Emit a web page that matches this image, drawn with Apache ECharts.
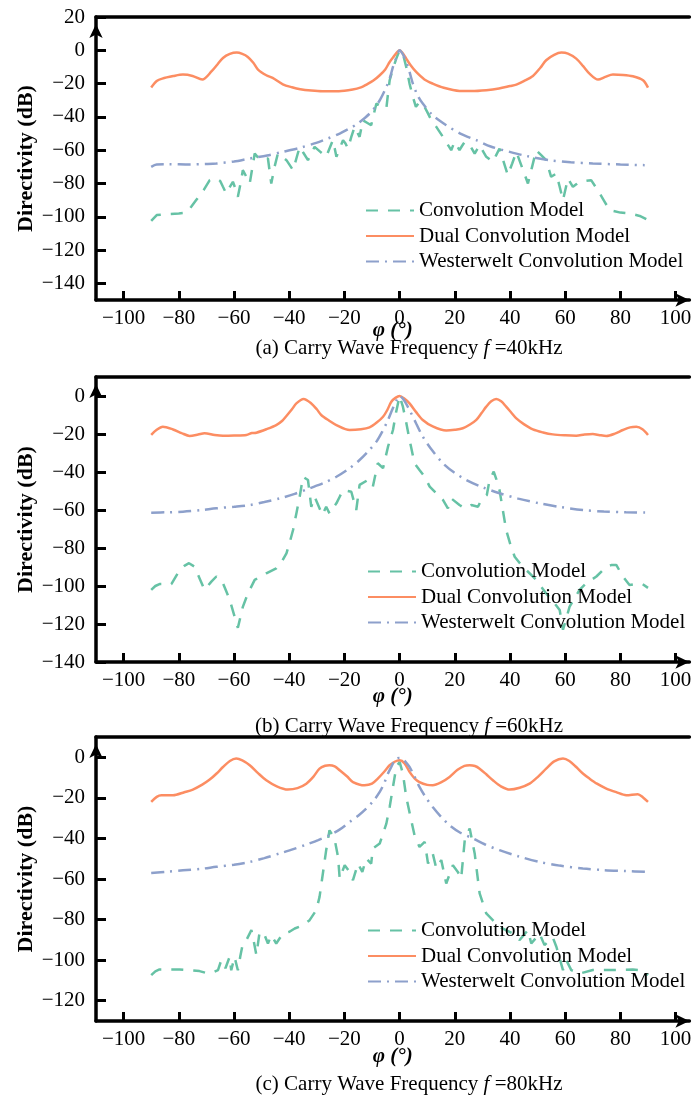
<!DOCTYPE html>
<html>
<head>
<meta charset="utf-8">
<script src="https://cdn.jsdelivr.net/npm/echarts@6/dist/echarts.min.js"></script>
<style>
  html, body { margin: 0; padding: 0; background: #fff; }
  #main { width: 699px; height: 1102px; }
</style>
</head>
<body>
<div id="main"></div>
<script>
// ---- data, [angle deg, directivity dB] ----
const seriesNames = ["Convolution Model", "Dual Convolution Model", "Westerwelt Convolution Model"];
const xTicks = [-100, -80, -60, -40, -20, 0, 20, 40, 60, 80, 100];
const yTicksA = [20, 0, -20, -40, -60, -80, -100, -120, -140];
const yTicksB = [0, -20, -40, -60, -80, -100, -120, -140];
const yTicksC = [0, -20, -40, -60, -80, -100, -120];
const captions = ["40kHz", "60kHz", "80kHz"];

// (a) f = 40kHz
const convA = [[-90,-102.4],[-88,-99],[-85,-98.5],[-80,-98],[-77.3,-97.6],[-75.5,-94],[-73.7,-90],[-71,-84],[-68.8,-78],[-66.4,-77],[-65,-78.5],[-64,-82],[-62.8,-86],[-61.5,-82],[-60.4,-79],[-59.5,-83],[-58.6,-88],[-57.5,-79],[-56.8,-72],[-55.5,-76],[-54.3,-80],[-53.3,-70],[-52.5,-62],[-51.5,-64],[-50,-66],[-48.8,-65],[-47.7,-65],[-46.5,-80],[-45.3,-70],[-44.1,-62],[-42.5,-64],[-41,-66],[-39.8,-69],[-38.6,-72],[-37.4,-65],[-36.2,-58],[-34.7,-62],[-33.2,-66],[-32,-62],[-30.8,-58],[-28.7,-61],[-26.6,-64],[-25.4,-59],[-24.2,-54],[-23.5,-59],[-22.9,-64],[-21.7,-59],[-20.5,-54],[-19.6,-56],[-18.7,-59],[-17.5,-52],[-16.3,-46],[-15.4,-49],[-14.5,-52],[-13.9,-47],[-13.3,-42],[-11.8,-43.5],[-10.3,-45],[-9.3,-38],[-8.4,-32],[-6.6,-33.5],[-4.8,-35],[-4.2,-26],[-3.6,-18],[-2.4,-11],[-1.2,-5],[0,0],
  [1.2,-2],[2.4,-10],[3.6,-20],[4.8,-28],[5.9,-34],[7.2,-31],[8.4,-32],[10,-37],[11.5,-42],[12.4,-44],[13.3,-46],[14.5,-49],[15.7,-52],[17.2,-56],[18.7,-60],[19.9,-55],[20.8,-57.5],[21.7,-60],[22.6,-57.5],[23.6,-55],[25.4,-57],[27.2,-62],[28.1,-59.5],[29,-57],[30.2,-60.5],[31.4,-64],[33.8,-67],[35,-63],[36.2,-59],[37.7,-67],[39.2,-75],[40.8,-68],[42.3,-61],[44.4,-70.5],[46.5,-80],[48,-70],[49.5,-60],[51.3,-63],[53.1,-66],[54.9,-76],[56.8,-74],[58,-82],[59.2,-90],[60.1,-83.5],[61,-77],[62.8,-82],[64,-80.5],[65.2,-79],[67.3,-78.5],[69.4,-78],[71,-82],[72.5,-86],[74.3,-91],[76.1,-96],[80,-97.5],[83.3,-98],[87,-99.5],[90,-102]];
const dualA = [[-90,-22.4],[-88,-18.5],[-86,-17],[-82,-15.5],[-78.5,-14.6],[-75,-15.4],[-71.5,-17.6],[-68,-12.4],[-66,-8.5],[-64,-4.6],[-61.5,-2.2],[-59,-1.4],[-57,-2.2],[-55,-4],[-53,-7.5],[-51.3,-11.6],[-48.3,-15],[-46,-16.6],[-42.3,-20.4],[-39,-22.2],[-36,-23.4],[-32,-24.2],[-28,-24.6],[-22,-24.6],[-17,-23.6],[-14,-22.3],[-12,-20.6],[-9.5,-18.2],[-7.2,-15],[-5.2,-11.5],[-3.6,-7],[-2,-3.5],[-0.8,-1],[0,0],[1,-1.5],[2.4,-5],[4,-9],[6,-13],[9,-17.5],[12,-20],[16,-22.5],[21.7,-24.4],[26,-24.5],[31.4,-24],[36,-23],[40,-21.5],[42.3,-20.6],[45,-18.5],[48.3,-15.4],[51,-10.5],[53.1,-6],[56,-2.8],[58.6,-1.4],[61,-2],[64,-5],[66.5,-9.5],[68.8,-14],[71.9,-17.6],[74.5,-16],[77.3,-14.6],[81,-14.8],[84.5,-15.6],[88.2,-18],[90,-22.4]];
const westA = [[-90,-70],[-88,-68.6],[-84,-68.4],[-76,-68.6],[-70,-68.3],[-66.4,-68],[-60,-66.8],[-54.3,-65],[-48,-63.2],[-42.3,-61],[-36,-58.5],[-30.2,-55.6],[-26,-53],[-21.7,-50],[-18.5,-47.3],[-15.7,-44.6],[-12.5,-40.5],[-9.7,-36],[-7,-29.5],[-4.8,-22],[-3.5,-16.5],[-2.4,-10],[-1.2,-4.5],[0,0],[1.2,-2.5],[2.4,-7],[3.6,-13],[4.8,-20],[6.5,-27],[8.4,-32],[12,-39],[16.9,-45],[22,-50],[27.8,-54],[33,-57.8],[39.9,-61],[46,-63.5],[54.3,-66],[62,-67.2],[70,-68],[80,-68.6],[88.8,-69]];

// (b) f = 60kHz
const convB = [[-90,-102],[-88.5,-100],[-87,-99],[-84.8,-99],[-82.7,-99],[-81.2,-95.3],[-79.7,-91.6],[-78,-89.4],[-76.3,-88],[-74.3,-89.8],[-72.5,-95.9],[-70.7,-102],[-69.4,-99.8],[-68.2,-97.7],[-66.4,-95],[-65.2,-96.3],[-64,-98.6],[-62.8,-102.8],[-61.6,-107],[-60.1,-114.5],[-58.6,-122],[-57.7,-116.5],[-56.8,-111],[-55,-104],[-52.5,-96.8],[-50.4,-95],[-48.3,-93.3],[-44.7,-90.7],[-42.8,-87.5],[-41,-82.8],[-39.8,-77],[-38.6,-70.5],[-37.4,-61.8],[-36.2,-53],[-35,-42.5],[-33.2,-44.2],[-32,-58.3],[-30.8,-53],[-29.4,-57.8],[-28,-62.6],[-26.6,-58.3],[-25.4,-61.8],[-24.2,-59],[-22.9,-56.5],[-21.7,-53],[-20.5,-49.5],[-17.5,-50.4],[-15.7,-60],[-14.5,-46.8],[-11.5,-44.2],[-9.7,-47.7],[-7.9,-35.4],[-6,-38],[-4.2,-26.7],[-2.4,-17.9],[-1.2,-8],[0,0],
  [1.2,-5.6],[2.4,-14],[3.6,-23],[5.4,-35.4],[7.2,-38.9],[9.1,-42.5],[10.9,-47.7],[13.3,-51.2],[15.7,-54.7],[17.5,-59.1],[18.7,-53.9],[21.7,-57.4],[23.6,-59.1],[26,-57.4],[28.4,-58.3],[29.6,-54.7],[31.6,-52.1],[32.6,-44.2],[34.1,-39.8],[35.1,-44],[36.2,-49.5],[37.4,-60],[38.6,-70.5],[40.1,-78],[41.7,-84.6],[43.8,-88.5],[45.9,-91.6],[49.5,-96.8],[53.1,-103.9],[55.5,-108],[58,-112.6],[59.2,-123],[60.4,-117],[61.6,-110.9],[63.4,-106.5],[65.2,-102],[67.6,-98.6],[71.3,-95],[74.9,-89.8],[76.7,-89],[78.5,-88.9],[80.9,-95],[83.3,-99.5],[86,-98.8],[88,-99],[90,-101]];
const dualB = [[-90,-20.5],[-88,-17.8],[-85.8,-16.2],[-82.1,-17.6],[-79,-19.5],[-76.1,-21],[-73,-20.3],[-70.7,-19.6],[-67,-20.5],[-64,-20.9],[-60,-20.8],[-55.5,-20.5],[-53.5,-19.5],[-51.9,-19.3],[-48.3,-17.5],[-44.7,-15.3],[-42.5,-13],[-41,-10.5],[-39,-7],[-37.4,-3.9],[-34.8,-1.6],[-32,-3.9],[-30,-7],[-28.4,-10],[-25.5,-13],[-22.9,-15.3],[-18.1,-17.9],[-14,-17.5],[-10.9,-16.5],[-8.3,-14],[-6,-10.9],[-4.5,-7.5],[-3,-3],[-1.5,-1],[0,0],[1.8,-1.5],[3.6,-3.9],[6,-8.5],[8.4,-12.6],[12,-16],[16.9,-18.2],[20,-17.8],[22.9,-17],[25.5,-15],[27.8,-12.6],[29.7,-9],[31.4,-5.6],[33.2,-2.8],[35,-1.6],[36.8,-2.8],[38.6,-5.6],[40.5,-8.8],[42.3,-11.8],[45,-14.8],[48.3,-17.6],[52,-19.2],[55.5,-20.2],[60,-20.7],[64,-20.9],[67,-20.3],[70,-20],[72.5,-20.6],[74.9,-21],[78,-19.8],[80.9,-17.9],[83.5,-16.5],[85.8,-16.2],[88,-17.5],[90,-20.5]];
const westB = [[-90,-61.4],[-84,-61.2],[-78.5,-60.9],[-72,-60.1],[-66.4,-59.1],[-60,-58.3],[-54.3,-57.4],[-49,-55.8],[-43.5,-53.9],[-38,-51.5],[-32.6,-48.6],[-27.5,-45.8],[-22.9,-42.5],[-18.5,-38.4],[-14.5,-33.7],[-11.3,-29],[-8.4,-24],[-6.2,-18.5],[-4.2,-12.6],[-2.6,-7],[-1.2,-2.5],[0,0],[1.5,-2],[3.6,-7.4],[6,-14.5],[8.4,-21.4],[12,-29],[15.7,-35.4],[19.8,-40.3],[24.2,-44.2],[30,-48],[36.2,-51.2],[43,-54],[50.7,-56.5],[58,-58.4],[66.4,-60],[74,-60.8],[82,-61.2],[90,-61.4]];

// (c) f = 80kHz
const convC = [[-90,-107.4],[-88.5,-105.5],[-87,-104.6],[-83,-104.6],[-79.7,-104.6],[-76,-105],[-72.5,-105.4],[-69.4,-106.6],[-67.5,-106],[-65.8,-104.9],[-64.6,-100],[-63.1,-104],[-61.6,-98.4],[-61,-105],[-59.8,-98.4],[-58.6,-105],[-57.7,-98],[-56.8,-91.8],[-55.5,-90.1],[-53.7,-85.2],[-52.8,-91],[-51.9,-97.5],[-50.7,-86],[-48.9,-87.7],[-47.7,-91.8],[-46.5,-87.7],[-44.7,-91.8],[-42.3,-86.9],[-39.9,-86],[-38,-84.4],[-35,-82.8],[-32.6,-80.3],[-30.2,-75.4],[-29,-68.8],[-27.8,-57.3],[-26.6,-45.8],[-25.4,-36],[-23.6,-40],[-22.3,-49.1],[-21.7,-59.8],[-19.9,-53.2],[-18.1,-56.5],[-16.9,-60.6],[-15.1,-52.4],[-13.5,-56.5],[-12.1,-49.9],[-10.3,-52.4],[-9.7,-45],[-7.2,-42.5],[-6,-37.6],[-4.8,-32.7],[-3.6,-24.5],[-2.4,-14.6],[-1.2,-4.8],[0,-2.3],
  [1.2,-8],[2.4,-19.6],[4.2,-31],[5.4,-38.4],[7.2,-44.2],[9.1,-41.7],[10.3,-52.4],[12,-47.4],[13.3,-54.8],[15.1,-50.7],[16.9,-62.2],[19.3,-53.2],[21.1,-56.5],[22.3,-59.8],[23.6,-40.9],[25.4,-35.1],[27.2,-47.4],[29,-67.1],[31.4,-77],[36.2,-83.6],[41.1,-86.9],[43.5,-90.1],[46.5,-85.2],[47.7,-91.8],[50.7,-86.9],[52.5,-92.6],[55.5,-88.8],[56.8,-93.4],[59.2,-104.9],[60.4,-100],[62.2,-104.9],[65.2,-106.6],[70,-104.9],[78.5,-104.9],[84.5,-104.6],[88,-105],[90,-107.4]];
const dualC = [[-90,-22],[-88,-19.5],[-86.3,-18.7],[-82.1,-18.7],[-78,-17.2],[-74.9,-15.9],[-71.5,-13.5],[-68.8,-11],[-66.3,-8],[-64,-4.8],[-61.5,-1.8],[-59.2,-0.6],[-57,-1.5],[-54.3,-3.9],[-51.3,-7.8],[-48.3,-11.3],[-44.5,-14.3],[-40.5,-15.9],[-37,-15.2],[-33.8,-13],[-31.2,-9.5],[-29,-5.6],[-27,-4.2],[-25.4,-3.9],[-23.5,-4.5],[-21.7,-6.4],[-19,-9.5],[-16.9,-12.2],[-12.7,-13.8],[-10,-13],[-7.9,-10.5],[-5.5,-7],[-3.6,-3.9],[-1.8,-2.2],[0,-1.5],[1.8,-3],[3.6,-7.2],[5.5,-10.5],[7.2,-12.2],[10,-13.6],[12,-13.8],[15,-12.4],[18.1,-9.7],[21,-6.2],[23.5,-4.2],[25.4,-3.9],[27.3,-4.3],[29,-5.6],[31.5,-8.5],[33.8,-11.3],[36.7,-14.3],[39.9,-15.9],[43.5,-15],[47.1,-13],[50.2,-9.5],[53.1,-5.6],[56,-2],[59.2,-0.6],[61.5,-1.8],[64,-4.8],[66.4,-8],[68.8,-10.5],[71.5,-13],[74.9,-15.4],[78.5,-17.2],[82.1,-18.7],[86.3,-18.2],[88.2,-19.8],[90,-22]];
const westC = [[-90,-57],[-84,-56.4],[-78.5,-55.7],[-72,-55],[-66.4,-54],[-60,-53],[-54.3,-51.6],[-49,-49.7],[-43.5,-47.4],[-38.5,-45.3],[-33.8,-43],[-29.5,-40.8],[-25.4,-38.4],[-21.5,-35.4],[-18.1,-31.9],[-15,-28.8],[-12.1,-25.3],[-9.5,-21.5],[-7.2,-17.1],[-5.5,-12.5],[-4.2,-8],[-2.8,-4.2],[-1.8,-1.5],[-0.8,-0.4],[0,-0.3],[0.9,-0.5],[2,-2],[3.6,-4.8],[5.4,-9.5],[7.2,-14.6],[9.5,-19.8],[12,-24.5],[15,-29.3],[18.1,-33.5],[22,-37.2],[26.6,-40],[31,-43],[36.2,-45.8],[43,-48.8],[50.7,-51.6],[58,-53.4],[66.4,-54.8],[74,-55.6],[82,-56.1],[89.4,-56.5]];

// ---- layout ----
const FONT = "Liberation Serif";
const colors = ["#66c2a5", "#fc8d62", "#8da0cb"];
const panels = [
  { top: 17,  height: 283, min: -150, max: 20, yTicks: yTicksA, data: [convA, dualA, westA], legendTop: 200, legendLeft: 365, capTop: 338, nameGap: 20, tag: "(a)" },
  { top: 377, height: 285, min: -140, max: 10, yTicks: yTicksB, data: [convB, dualB, westB], legendTop: 561, legendLeft: 367, capTop: 716, nameGap: 24, tag: "(b)" },
  { top: 737, height: 284, min: -130, max: 10, yTicks: yTicksC, data: [convC, dualC, westC], legendTop: 920, legendLeft: 367, capTop: 1074, nameGap: 25, tag: "(c)" }
];

function minus(v) {
  return v < 0 ? "\u2212" + (-v) : String(v);
}

const axisLineStyle = { color: "#000", width: 3.5 };
const labelStyle = { fontFamily: FONT, fontSize: 21, color: "#000" };

let grid = [], xAxis = [], yAxis = [], series = [], legend = [], title = [];

panels.forEach((p, i) => {
  grid.push({ left: 96, top: p.top, width: 593.4, height: p.height });

  // bottom axis with ticks and labels
  xAxis.push({
    gridIndex: i, type: "value", min: -110, max: 105, position: "bottom",
    axisLine: { onZero: false, lineStyle: axisLineStyle, symbol: ["none", "arrow"], symbolSize: [10, 14] },
    axisTick: { inside: true, length: 9, lineStyle: { color: "#000", width: 3 }, customValues: xTicks },
    axisLabel: Object.assign({ customValues: xTicks, margin: 8, formatter: minus }, labelStyle),
    splitLine: { show: false },
    name: "φ (°)", nameLocation: "middle", nameGap: p.nameGap, nameMoveOverlap: false,
    nameTextStyle: { fontFamily: FONT, fontSize: 21, fontWeight: "bold", fontStyle: "italic", color: "#000" }
  });
  // top frame line
  xAxis.push({
    gridIndex: i, type: "value", min: -110, max: 105, position: "top",
    axisLine: { onZero: false, lineStyle: axisLineStyle },
    axisTick: { show: false }, axisLabel: { show: false }, splitLine: { show: false }
  });

  yAxis.push({
    gridIndex: i, type: "value", min: p.min, max: p.max,
    axisLine: { show: true, onZero: false, lineStyle: axisLineStyle, symbol: ["none", "arrow"], symbolSize: [10, 14], symbolOffset: [0, -7] },
    axisTick: { show: true, inside: true, length: 10, lineStyle: { color: "#000", width: 3 }, customValues: p.yTicks },
    axisLabel: Object.assign({ customValues: p.yTicks, margin: 11, formatter: minus }, labelStyle),
    splitLine: { show: false },
    name: "Directivity (dB)", nameLocation: "middle", nameGap: 59, nameMoveOverlap: false,
    nameTextStyle: { fontFamily: FONT, fontSize: 22, fontWeight: "bold", color: "#000" }
  });

  const lineTypes = [[12, 10], "solid", [13, 6, 2, 6]];
  p.data.forEach((d, k) => {
    series.push({
      name: seriesNames[k], type: "line", xAxisIndex: 2 * i, yAxisIndex: i,
      data: d, symbol: "none", showSymbol: false, smooth: k === 0 ? false : 0.3,
      lineStyle: { color: colors[k], width: 2.5, type: lineTypes[k] },
      itemStyle: { color: colors[k] }
    });
  });

  legend.push({
    orient: "vertical", left: p.legendLeft, top: p.legendTop, padding: 0,
    itemWidth: 48, itemHeight: 14, itemGap: 4.5,
    itemStyle: { opacity: 0 },
    data: seriesNames,
    textStyle: { fontFamily: FONT, fontSize: 21, color: "#000", lineHeight: 21 }
  });

  title.push({
    text: p.tag + " Carry Wave Frequency {i|f} =" + captions[i],
    left: 409, top: p.capTop, textAlign: "center", padding: 0,
    textStyle: {
      fontFamily: FONT, fontSize: 21, fontWeight: "normal", color: "#000",
      rich: { i: { fontFamily: FONT, fontSize: 21, fontStyle: "italic", color: "#000" } }
    }
  });
});

let myChart = echarts.init(document.getElementById("main"));
myChart.setOption({
  animation: false,
  backgroundColor: "#fff",
  title: title,
  grid: grid,
  xAxis: xAxis,
  yAxis: yAxis,
  legend: legend,
  series: series
});
</script>
</body>
</html>
